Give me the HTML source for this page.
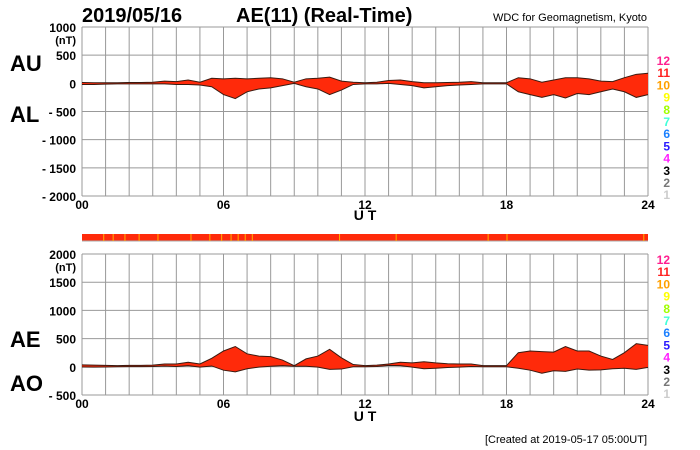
<!DOCTYPE html>
<html><head><meta charset="utf-8">
<style>
html,body{margin:0;padding:0;background:#fff;}
svg{display:block;font-family:"Liberation Sans",Arial,sans-serif;font-weight:bold;}
</style></head>
<body>
<svg id="chart" width="700" height="450" viewBox="0 0 700 450">
<text x="82" y="22" font-size="20">2019/05/16</text>
<text x="236" y="22" font-size="20">AE(11) (Real-Time)</text>
<text x="647" y="21" font-size="11" font-weight="normal" text-anchor="end">WDC for Geomagnetism, Kyoto</text>
<text x="10" y="71" font-size="22">AU</text>
<text x="10" y="122" font-size="22">AL</text>
<text x="10" y="347" font-size="22">AE</text>
<text x="10" y="391" font-size="22">AO</text>
<text x="365" y="220" font-size="14" text-anchor="middle">U T</text>
<text x="365" y="421" font-size="14" text-anchor="middle">U T</text>
<text x="647" y="443" font-size="11" font-weight="normal" text-anchor="end">[Created at 2019-05-17 05:00UT]</text>
<g id="top"></g><g id="strip"></g><g id="bottom"></g><g id="legends"></g>
</svg>
<script>
const hours = [0,0.5,1,1.5,2,2.5,3,3.5,4,4.5,5,5.5,6,6.5,7,7.5,8,8.5,9,9.5,10,10.5,11,11.5,12,12.5,13,13.5,14,14.5,15,15.5,16,16.5,17,17.5,18,18.5,19,19.5,20,20.5,21,21.5,22,22.5,23,23.5,24];
const auValues = [15,10,10,10,15,15,20,40,30,60,20,90,80,90,80,90,100,80,20,80,90,110,40,20,10,20,50,60,30,10,10,15,20,30,10,10,10,100,80,20,60,100,100,80,40,30,100,160,180];
const alValues = [-20,-20,-15,-10,-10,-10,-10,-10,-20,-20,-30,-60,-200,-270,-150,-100,-80,-40,0,-60,-100,-200,-120,-20,-10,-10,0,-20,-40,-80,-60,-40,-30,-20,-10,-10,-10,-150,-200,-250,-200,-260,-180,-200,-150,-100,-150,-250,-200];
const topTicks = [1000,500,0,-500,-1000,-1500,-2000];
const topTickLabels = ["1000","500","0","- 500","- 1000","- 1500","- 2000"];
const botTicks = [2000,1500,1000,500,0,-500];
const botTickLabels = ["2000","1500","1000","500","0","- 500"];
const xTicks = [0,6,12,18,24];
const xTickLabels = ["00","06","12","18","24"];
const stationCounts = ["12","11","10","9","8","7","6","5","4","3","2","1"];
const countColors = ["#ff1f8f","#ff2020","#ffa000","#ffff00","#a0ff00","#40ffd8","#1a7fff","#2a1aff","#ff20ff","#000","#777","#ccc"];
const stripYellowHours = [0.9,1.3,1.8,2.4,3.2,4.6,5.4,5.9,6.3,6.6,6.9,7.2,10.9,13.3,17.2,18,23.8];

const NS="http://www.w3.org/2000/svg";
const X0=82,X1=648;
const xs=h=>X0+(X1-X0)*h/24;
function mk(tag,attrs,parent){const e=document.createElementNS(NS,tag);for(const k in attrs)e.setAttribute(k,attrs[k]);parent.appendChild(e);return e;}

function panel(g,top,bot,vmax,vmin,ticks,labels,upper,lower,prefix){
  const ys=v=>top+(bot-top)*(vmax-v)/(vmax-vmin);
  for(let h=0;h<=24;h++){const l=mk('line',{x1:xs(h),x2:xs(h),y1:top,y2:bot,stroke:'#999','stroke-width':1},g);
    }
  ticks.forEach((v,i)=>{const l=mk('line',{x1:X0,x2:X1,y1:ys(v),y2:ys(v),stroke:'#999','stroke-width':1},g);
    
    const t=mk('text',{x:76,y:ys(v)+5,'font-size':12,'text-anchor':'end'},g);t.textContent=labels[i];
    });
  const u=mk('text',{x:76,y:ys(ticks[0])+17,'font-size':11,'text-anchor':'end'},g);u.textContent='(nT)';
  
  xTicks.forEach((h,i)=>{const t=mk('text',{x:xs(h),y:bot+13,'font-size':12,'text-anchor':'middle'},g);t.textContent=xTickLabels[i];
    });
  let pts=hours.map((h,i)=>xs(h)+','+ys(upper[i])).join(' ');
  let pts2=hours.map((h,i)=>xs(h)+','+ys(lower[i])).reverse().join(' ');
  const a=mk('polygon',{points:pts+' '+pts2,fill:'#ff2a0a'},g);
  
  const l1=mk('polyline',{points:pts,fill:'none',stroke:'#3a1a10','stroke-width':1},g);
  
  const l2=mk('polyline',{points:pts2,fill:'none',stroke:'#3a1a10','stroke-width':1},g);
  
}
const ae=auValues.map((v,i)=>v-alValues[i]);
const ao=auValues.map((v,i)=>(v+alValues[i])/2);
panel(document.getElementById('top'),27,196,1000,-2000,topTicks,topTickLabels,auValues,alValues,'au-al');
panel(document.getElementById('bottom'),254,395,2000,-500,botTicks,botTickLabels,ae,ao,'ae-ao');

const sg=document.getElementById('strip');
const sb=mk('rect',{x:X0,y:234,width:X1-X0,height:7,fill:'#ff2a0a'},sg);

mk('line',{x1:X0,x2:X1,y1:241,y2:241,stroke:'#aaa','stroke-width':1},sg);
stripYellowHours.forEach(h=>{const s=mk('rect',{x:xs(h),y:234,width:1,height:7,fill:'#ffb000'},sg);
  });

const lg=document.getElementById('legends');
[61,260].forEach(y0=>{stationCounts.forEach((c,i)=>{const t=mk('text',{x:670,y:y0+i*12.2+4,'font-size':12,'text-anchor':'end',fill:countColors[i]},lg);
  t.textContent=c;});});
</script>
</body></html>
